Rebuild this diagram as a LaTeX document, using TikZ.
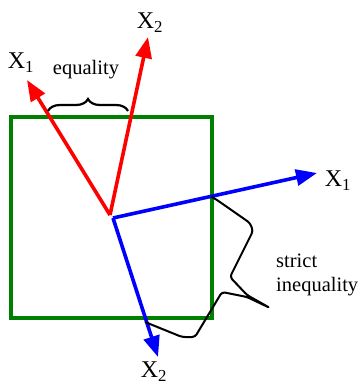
\documentclass[tikz,border=0pt]{standalone}
\usepackage{fontspec}
\setmainfont{Liberation Serif}
\usetikzlibrary{arrows.meta,decorations.pathreplacing}
\definecolor{boxgreen}{RGB}{0,128,0}
\tikzset{
  vec/.style={line width=3.6pt,-{Triangle[length=21pt,width=16pt]}},
  lbl/.style={font=\fontsize{24}{28}\selectfont,inner sep=0pt},
  txt/.style={font=\fontsize{20.5}{23.5}\selectfont,inner sep=0pt,align=left},
}
\begin{document}
\begin{tikzpicture}[x=1pt,y=-1pt]
\useasboundingbox (0,0) rectangle (360,385);
% box
\draw[boxgreen,line width=3.2pt] (11,117) rectangle (212,318);
% red vectors
\coordinate (ro) at (110,215);
\coordinate (r1) at (27,80);
\coordinate (r2) at (148,37);
\draw[red,vec] (ro) -- (r1);
\draw[red,vec] (ro) -- (r2);
\node[lbl] (lr1) at (21,63) {X\textsubscript{1}};
\node[lbl] (lr2) at (150,23) {X\textsubscript{2}};
% blue vectors
\coordinate (bo) at (113,218);
\coordinate (b1) at (317,173);
\coordinate (b2) at (158,357);
\draw[blue,vec] (bo) -- (b1);
\draw[blue,vec] (bo) -- (b2);
\node[lbl] (lb1) at (338,181) {X\textsubscript{1}};
\node[lbl] (lb2) at (154,372) {X\textsubscript{2}};
% equality brace
\coordinate (e1) at (48,111);
\coordinate (e2) at (128,111);
\draw[line width=2.2pt,decorate,decoration={brace,amplitude=12pt}] (e1) -- (e2);
\node[txt] (eq) at (86,70) {equality};
% strict inequality
\draw[line width=2pt,rounded corners=3pt,line join=round]
  (212,197) -- (217,200) -- (250,223) -- (253,231) -- (230,277) -- (247,295)
  -- (270,308) -- (247,297) -- (222,292) -- (195,337) -- (182,337) -- (145,322);
\node[txt,anchor=west] (si) at (276,275) {strict\\inequality};
\end{tikzpicture}
\end{document}
